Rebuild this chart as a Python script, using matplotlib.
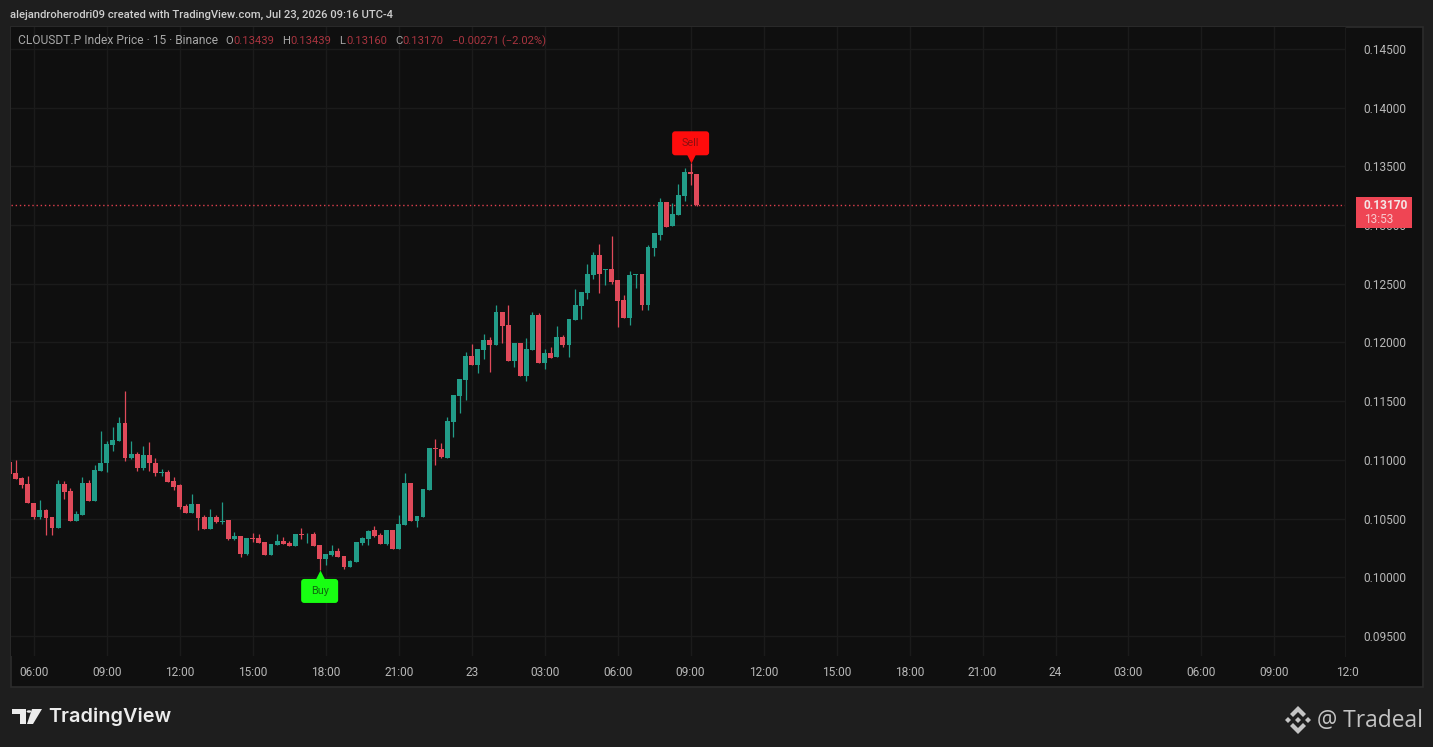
# CLOUSDT.P 15 min candles, TradingView dark snapshot
import numpy as np
import matplotlib
matplotlib.use('Agg')
import matplotlib.pyplot as plt
from matplotlib.patches import Polygon, Circle, Rectangle, FancyBboxPatch
from matplotlib.transforms import offset_copy, blended_transform_factory, IdentityTransform

plt.rcParams['font.family'] = ['Roboto', 'DejaVu Sans']

# ------------------------------
# Data
# ------------------------------
opens = [
    .10984, .10888, .10848, .10794, .10635, .10516, .10573, .10513, .10422, .10794,
    .10735, .10479, .10533, .10806, .10652, .10908, .10970, .11126, .11163, .11317,
    .11016, .11053, .10933, .11041, .10970, .10885, .10896, .10820, .10789, .10607,
    .10550, .10624, .10513, .10414, .10516, .10471, .10488, .10323, .10352, .10196,
    .10338, .10335, .10298, .10190, .10278, .10309, .10292, .10267, .10372, .10366,
    .10369, .10275, .10156, .10190, .10227, .10181, .10088, .10133, .10292, .10329,
    .10403, .10363, .10284, .10403, .10241, .10448, .10806, .10482, .10511, .10744,
    .11098, .11093, .11013, .11323, .11544, .11680, .11885, .11805, .11936, .12021,
    .11979, .12257, .12149, .11842, .11998, .11715, .11936, .12237, .11822, .11910,
    .11879, .12050, .11979, .12194, .12311, .12424, .12575, .12745, .12615, .12626,
    .12532, .12362, .12209, .12572, .12581, .12317, .12805, .12918, .13194, .12992,
    .13086, .13248, .13449, .13439,
]
highs = [
    .10999, .10999, .10857, .10862, .10635, .10658, .10578, .10513, .10828, .10820,
    .10757, .10567, .10857, .10828, .10956, .11246, .11163, .11277, .11362, .11586,
    .11163, .11070, .11118, .11155, .11013, .10919, .10913, .10857, .10794, .10624,
    .10709, .10624, .10530, .10578, .10530, .10644, .10488, .10389, .10352, .10332,
    .10380, .10369, .10298, .10284, .10369, .10340, .10309, .10369, .10417, .10374,
    .10386, .10275, .10196, .10275, .10247, .10181, .10147, .10301, .10346, .10403,
    .10437, .10380, .10403, .10403, .10531, .10885, .10806, .10522, .10749, .11101,
    .11178, .11147, .11368, .11556, .11689, .11916, .11984, .11947, .12072, .12050,
    .12319, .12257, .12322, .11998, .11998, .12035, .12260, .12248, .11942, .11964,
    .12140, .12064, .12203, .12453, .12430, .12669, .12771, .12839, .12626, .12910,
    .12532, .12405, .12612, .12583, .12581, .12828, .12930, .13228, .13194, .13185,
    .13350, .13483, .13526, .13439,
]
lows = [
    .10877, .10834, .10763, .10630, .10493, .10493, .10363, .10360, .10422, .10664,
    .10476, .10476, .10533, .10652, .10652, .10908, .10899, .11078, .11163, .10990,
    .11004, .10908, .10913, .10908, .10862, .10862, .10811, .10743, .10584, .10544,
    .10544, .10402, .10411, .10414, .10459, .10454, .10317, .10318, .10176, .10190,
    .10303, .10295, .10190, .10190, .10272, .10281, .10267, .10267, .10329, .10295,
    .10267, .10062, .10102, .10184, .10176, .10068, .10085, .10133, .10278, .10275,
    .10346, .10284, .10272, .10241, .10241, .10448, .10479, .10426, .10511, .10744,
    .10957, .11019, .11013, .11192, .11402, .11510, .11805, .11737, .11856, .11751,
    .11979, .11993, .11842, .11794, .11715, .11669, .11936, .11822, .11777, .11865,
    .11879, .11959, .11879, .12194, .12200, .12368, .12538, .12419, .12490, .12498,
    .12135, .12209, .12149, .12461, .12277, .12277, .12737, .12873, .12981, .12992,
    .13086, .13208, .13341, .13160,
]
closes = [
    .10879, .10837, .10786, .10635, .10516, .10573, .10505, .10422, .10794, .10726,
    .10476, .10539, .10806, .10652, .10913, .10973, .11135, .11169, .11317, .11013,
    .11050, .10931, .11041, .10970, .10885, .10894, .10811, .10772, .10601, .10544,
    .10624, .10507, .10411, .10513, .10471, .10479, .10326, .10352, .10196, .10332,
    .10326, .10295, .10193, .10284, .10309, .10286, .10267, .10369, .10360, .10372,
    .10267, .10156, .10196, .10224, .10176, .10085, .10139, .10301, .10335, .10394,
    .10349, .10284, .10403, .10241, .10454, .10803, .10479, .10522, .10749, .11101,
    .11093, .11027, .11334, .11556, .11689, .11888, .11805, .11947, .12021, .11979,
    .12260, .12143, .11842, .11998, .11715, .11944, .12237, .11822, .11908, .11871,
    .12050, .11979, .12203, .12319, .12430, .12583, .12745, .12583, .12626, .12518,
    .12353, .12209, .12575, .12583, .12317, .12816, .12930, .13199, .12981, .13094,
    .13256, .13452, .13438, .13170,
]
first_bar = -4  # bars counted from the 06:00 candle

price_ticks = [.095, .100, .105, .110, .115, .120, .125, .130, .135, .140, .145]
time_pos = [0, 12, 24, 36, 48, 60, 72, 84, 96, 108, 120, 132, 144, 156, 168, 180, 192, 204]
time_labels = ['06:00', '09:00', '12:00', '15:00', '18:00', '21:00', '23', '03:00', '06:00',
               '09:00', '12:00', '15:00', '18:00', '21:00', '24', '03:00', '06:00', '09:00']
last_tick_pos = 216
last_tick_label = '12:0'

last_price = 0.13170
buy_bar = 47
sell_bar = 108

BG = '#1e1e1e'
PANE = '#0f0f0f'
GRID = '#1b1b1b'
UP = '#229c88'
DOWN = '#e04a5a'
TXT = '#b8b8b8'
BUY_GREEN = '#18ff12'
SELL_RED = '#ff0c0c'

W, H = 1433, 747


def fx(px):
    return px / W


def fy(py):
    return 1 - py / H


def figtext(px, py, s, **kw):
    kw.setdefault('va', 'center')
    kw.setdefault('color', TXT)
    kw.setdefault('fontsize', 8)
    return fig.text(fx(px), fy(py), s, **kw)


def figpoly(points, color):
    pts = [(fx(a), fy(b)) for a, b in points]
    fig.add_artist(Polygon(pts, closed=True, transform=fig.transFigure, color=color, lw=0))


def flag_box(bar, price, dy, label, fc, tc):
    # label box sits dy pixels from the candle's wick end
    px, py = ax.transData.transform((bar, price))
    box = FancyBboxPatch((px - 15.5, py + dy - 9), 31, 18, boxstyle='round,pad=3,rounding_size=3',
                         transform=IdentityTransform(), fc=fc, ec='none', zorder=7, clip_on=False)
    ax.add_patch(box)
    ax.text(px, py + dy, label, transform=IdentityTransform(), ha='center', va='center',
            fontsize=7.8, color=tc, zorder=8)


# ------------------------------
# Panes
# ------------------------------
fig = plt.figure(figsize=(W / 100, H / 100), dpi=100, facecolor=BG)

# whole chart block behind the scales
frame = Rectangle((fx(11), fy(687)), fx(1412), 660 / H, transform=fig.transFigure,
                  facecolor=PANE, edgecolor='#2c2c2c', lw=1.2, zorder=-1)
fig.add_artist(frame)

ax = fig.add_axes([fx(11), fy(656), fx(1334), 629 / H])
ax.set_facecolor(PANE)
for side in ax.spines.values():
    side.set_visible(False)
ax.spines['right'].set_visible(True)
ax.spines['right'].set_color('#1a1a1a')

ax.set_xlim(-3.75, 215.6)
ax.set_ylim(0.09329, 0.14687)
ax.yaxis.tick_right()
ax.set_yticks(price_ticks)
ax.set_yticklabels([f'{p:.5f}' for p in price_ticks], fontsize=8.6, color=TXT, va='center_baseline')
ax.set_xticks(time_pos)
ax.set_xticklabels(time_labels, fontsize=8.6, color=TXT)
ax.tick_params(length=0)
ax.tick_params(axis='y', pad=13)
ax.tick_params(axis='x', pad=7.5)
ax.grid(True, color=GRID, lw=1)
ax.set_axisbelow(True)

x_trans = blended_transform_factory(ax.transData, ax.transAxes)
ax.text(last_tick_pos, -0.0265, last_tick_label, transform=x_trans, ha='center', va='center',
        fontsize=8.6, color=TXT, clip_on=False)

# ------------------------------
# Candles
# ------------------------------
x = np.arange(first_bar, first_bar + len(opens))
o, h, l, c = map(np.array, (opens, highs, lows, closes))
up = c >= o
colors = np.where(up, UP, DOWN)

ax.vlines(x, l, h, colors=list(colors), lw=0.9, zorder=3)
ax.bar(x, np.abs(c - o), bottom=np.minimum(o, c), width=0.8, color=list(colors),
       lw=0, zorder=4)

ax.axhline(last_price, color='#e0404e', lw=1, ls=(0, (1, 2)), zorder=2)

# ------------------------------
# Buy / Sell flags
# ------------------------------
buy_i = buy_bar - first_bar
sell_i = sell_bar - first_bar
buy_tip = offset_copy(ax.transData, fig=fig, x=0, y=-6, units='dots')
sell_tip = offset_copy(ax.transData, fig=fig, x=0, y=6, units='dots')
ax.plot([buy_bar], [lows[buy_i]], marker='^', ms=8.5, mfc=BUY_GREEN, mec='none',
        transform=buy_tip, zorder=6, clip_on=False)
ax.plot([sell_bar], [highs[sell_i]], marker='v', ms=8.5, mfc=SELL_RED, mec='none',
        transform=sell_tip, zorder=6, clip_on=False)
flag_box(buy_bar, lows[buy_i], -21, 'Buy', BUY_GREEN, '#0f6b0f')
flag_box(sell_bar, highs[sell_i], 20, 'Sell', SELL_RED, '#8c1010')

# ------------------------------
# Price tag on the scale
# ------------------------------
fig.add_artist(Rectangle((fx(1356), fy(228)), fx(56), 31 / H, transform=fig.transFigure,
                         facecolor='#ef4554', edgecolor='none', zorder=5))
figtext(1364, 205, '0.13170', color='#f4e6e6', fontsize=8.6, fontweight='bold', zorder=6)
figtext(1364, 219.5, '13:53', color='#f8c8cc', fontsize=8.6, zorder=6)

# ------------------------------
# Header text
# ------------------------------
figtext(10, 15, 'alejandroherodri09 created with TradingView.com, Jul 23, 2026 09:16 UTC-4',
        color='#cfcfcf', fontsize=8.15, fontweight='medium')
figtext(17.5, 41, 'CLOUSDT.P Index Price · 15 · Binance', color='#a8a8a8', fontsize=8.65)
RED_TXT = '#a8343f'
for px, s in [(225, 'O'), (282, 'H'), (339, 'L'), (395, 'C')]:
    figtext(px, 41, s, color='#a8a8a8', fontsize=8.1)
for px in (233, 290, 346, 402):
    figtext(px, 41, '0.13' + {233: '439', 290: '439', 346: '160', 402: '170'}[px],
            color=RED_TXT, fontsize=8.1)
figtext(452, 41, '−0.00271 (−2.02%)', color=RED_TXT, fontsize=8.1)

# ------------------------------
# Footer: logos and names
# ------------------------------
LOGO = '#ececec'
figpoly([(12, 709), (26, 709), (26, 724), (20, 724), (20, 714), (12, 714)], LOGO)
fig.add_artist(Circle((fx(29), fy(711.5)), 2.4 / W, transform=fig.transFigure, color=LOGO, lw=0))
figpoly([(32, 709), (42, 709), (33, 724), (27, 724)], LOGO)
figtext(48.5, 717, 'TradingView', color=LOGO, fontsize=14.3, fontweight='semibold', family='Inter')

MARK = '#c4c4c4'
cx, cy = 1298, 720
figpoly([(cx, cy - 3), (cx + 3, cy), (cx, cy + 3), (cx - 3, cy)], MARK)
figpoly([(cx - 13, cy), (cx - 10, cy - 3), (cx - 7, cy), (cx - 10, cy + 3)], MARK)
figpoly([(cx + 13, cy), (cx + 10, cy - 3), (cx + 7, cy), (cx + 10, cy + 3)], MARK)
figpoly([(cx, cy - 14), (cx + 8, cy - 6), (cx + 5, cy - 3), (cx, cy - 8), (cx - 5, cy - 3), (cx - 8, cy - 6)], MARK)
figpoly([(cx, cy + 14), (cx + 8, cy + 6), (cx + 5, cy + 3), (cx, cy + 8), (cx - 5, cy + 3), (cx - 8, cy + 6)], MARK)
figtext(1317, 721, '@ Tradeal', color=MARK, fontsize=16.4, family='Open Sans')

fig.savefig('out.png', dpi=100, facecolor=BG)
